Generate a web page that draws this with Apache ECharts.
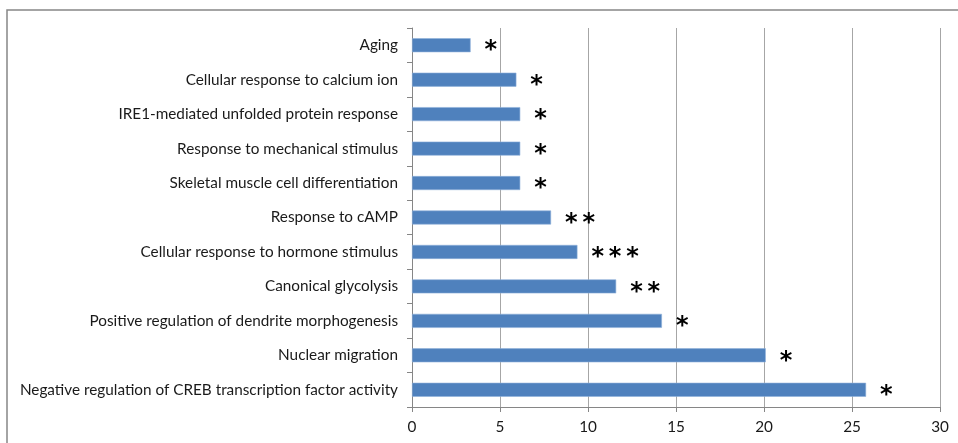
<!DOCTYPE html>
<html><head><meta charset="utf-8">
<script src="https://cdn.jsdelivr.net/npm/echarts@6/dist/echarts.min.js"></script>
<style>html,body{margin:0;padding:0;background:#fff}#c{width:958px;height:443px}</style>
</head><body><div id="c"></div>
<script>
const categories = [
  "Negative regulation of CREB transcription factor activity",
  "Nuclear migration",
  "Positive regulation of dendrite morphogenesis",
  "Canonical glycolysis",
  "Cellular response to hormone stimulus",
  "Response to cAMP",
  "Skeletal muscle cell differentiation",
  "Response to mechanical stimulus",
  "IRE1-mediated unfolded protein response",
  "Cellular response to calcium ion",
  "Aging"
];
const values = [25.8, 20.1, 14.2, 11.6, 9.4, 7.9, 6.15, 6.15, 6.15, 5.93, 3.33];
const stars = ["*", "*", "*", "**", "***", "**", "*", "*", "*", "*", "*"];
const xTicks = [0, 5, 10, 15, 20, 25, 30];

const chart = echarts.init(document.getElementById('c'));
chart.setOption({
  animation: false,
  graphic: [{type: 'rect', shape: {x: 7, y: 10, width: 1000, height: 500},
    style: {fill: 'none', stroke: '#878787', lineWidth: 1.5}, silent: true}],
  grid: {left: 412, right: 18, top: 28, bottom: 36, containLabel: false},
  xAxis: {
    type: 'value', min: xTicks[0], max: xTicks[xTicks.length - 1], interval: 5,
    axisLine: {show: true, lineStyle: {color: '#868686', width: 1}},
    axisTick: {show: true, length: 5, lineStyle: {color: '#868686'}},
    splitLine: {show: true, lineStyle: {color: '#A6A6A6', width: 1}},
    axisLabel: {color: '#1a1a1a', fontFamily: 'Lato', fontSize: 15.3, margin: 13}
  },
  yAxis: {
    type: 'category', data: categories,
    axisLine: {show: true, lineStyle: {color: '#868686', width: 1}},
    axisTick: {show: true, length: 5, lineStyle: {color: '#868686'}},
    axisLabel: {color: '#1a1a1a', fontFamily: 'Lato', fontSize: 15.3, margin: 14}
  },
  series: [{
    type: 'bar', data: values, barWidth: 14,
    itemStyle: {color: '#4F81BD', borderColor: '#8FB0DA', borderWidth: 0.6},
    label: {
      show: true, position: 'right', distance: 14,
      formatter: p => stars[p.dataIndex].split('').join('\u2009'),
      color: '#000', fontSize: 24, fontFamily: 'DejaVu Sans', fontWeight: 'bold',
      offset: [0, 6]
    }
  }]
});
</script></body></html>
